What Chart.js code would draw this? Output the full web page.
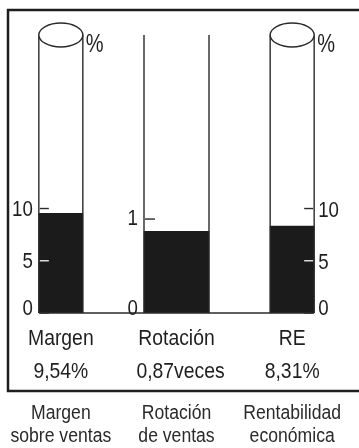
<!DOCTYPE html>
<html>
<head>
<meta charset="utf-8">
<style>
  html, body { margin: 0; padding: 0; background: #fff; }
  canvas { display: block; }
</style>
<script src="https://cdn.jsdelivr.net/npm/chart.js@4/dist/chart.umd.min.js"></script>
</head>
<body>
<canvas id="c" width="359" height="448"></canvas>
<script>
// ---- data ----
const categories = ['Margen', 'Rotación', 'RE'];
const valueLabels = ['9,54%', '0,87veces', '8,31%'];
const descLine1 = ['Margen', 'Rotación', 'Rentabilidad'];
const descLine2 = ['sobre ventas', 'de ventas', 'económica'];
const margenValues = [9.54, null, null];
const rotacionValues = [null, 0.87, null];
const reValues = [null, null, 8.31];
const pctTicks = [0, 5, 10];
const rotTicks = [0, 1];
const unitLabel = '%';

const INK = '#1e1e1e';
const FILL = '#1b1b1b';
const FONT = '"Liberation Sans", Arial, sans-serif';

function txt(ctx, s, x, y, size, align, sx, color) {
  ctx.save();
  ctx.font = size + 'px ' + FONT;
  ctx.fillStyle = color || INK;
  ctx.textBaseline = 'alphabetic';
  const w = ctx.measureText(s).width * sx;
  let left = x;
  if (align === 'center') left = x - w / 2;
  else if (align === 'right') left = x - w;
  ctx.translate(left, y);
  ctx.scale(sx, 1);
  ctx.textAlign = 'left';
  ctx.fillText(s, 0, 0);
  ctx.restore();
}

const decor = {
  id: 'decor',
  afterDatasetsDraw(chart) {
    const ctx = chart.ctx;
    const ca = chart.chartArea;
    const bars = [0, 1, 2].map(i => chart.getDatasetMeta(i).data[i]);
    const scales = [chart.scales.yL, chart.scales.yM, chart.scales.yR];
    const bottom = ca.bottom;
    const topY = ca.top + 2;

    ctx.save();
    // outer frame
    ctx.strokeStyle = INK;
    ctx.lineWidth = 2.5;
    ctx.beginPath();
    ctx.moveTo(365, 10);
    ctx.lineTo(8, 10);
    ctx.lineTo(8, 391);
    ctx.lineTo(365, 391);
    ctx.stroke();

    // tubes
    ctx.lineWidth = 1.4;
    ctx.strokeStyle = '#2a2a2a';
    bars.forEach((b, i) => {
      const l = b.x - b.width / 2, r = b.x + b.width / 2;
      ctx.beginPath();
      ctx.moveTo(l, topY); ctx.lineTo(l, bottom);
      ctx.moveTo(r, topY); ctx.lineTo(r, bottom);
      ctx.stroke();
      if (i !== 1) {
        ctx.beginPath();
        ctx.ellipse(b.x, topY, b.width / 2, 12, 0, 0, Math.PI * 2);
        ctx.fillStyle = '#fff';
        ctx.fill();
        ctx.stroke();
      }
    });
    // baseline
    const l0 = bars[0].x - bars[0].width / 2;
    const r2 = bars[2].x + bars[2].width / 2;
    ctx.beginPath();
    ctx.moveTo(l0, bottom); ctx.lineTo(r2, bottom);
    ctx.stroke();

    // ticks
    function tickColor(y, bar) { return (y > bar.y + 1 && y < bottom - 1) ? '#e8e8e8' : '#2a2a2a'; }
    const TS = 22, TSX = 0.85;
    // left scale
    pctTicks.forEach(t => {
      const y = scales[0].getPixelForValue(t);
      ctx.strokeStyle = tickColor(y, bars[0]);
      ctx.beginPath(); ctx.moveTo(l0 + 1, y); ctx.lineTo(l0 + 10, y); ctx.stroke();
      txt(ctx, String(t), l0 - 6, Math.min(y + 7.5, bottom + 2), TS, 'right', TSX);
    });
    // middle scale
    const lm = bars[1].x - bars[1].width / 2;
    rotTicks.forEach(t => {
      const y = scales[1].getPixelForValue(t);
      ctx.strokeStyle = '#2a2a2a';
      if (t !== 0) { ctx.beginPath(); ctx.moveTo(lm + 1, y); ctx.lineTo(lm + 11, y); ctx.stroke(); }
      txt(ctx, String(t), lm - 6, Math.min(y + 6, bottom + 2), TS, 'right', TSX);
    });
    // right scale
    pctTicks.forEach(t => {
      const y = scales[2].getPixelForValue(t);
      ctx.strokeStyle = tickColor(y, bars[2]);
      ctx.beginPath(); ctx.moveTo(r2 - 10, y); ctx.lineTo(r2 - 1, y); ctx.stroke();
      txt(ctx, String(t), r2 + 4, Math.min(y + 8, bottom + 2), TS, 'left', TSX);
    });

    // unit labels
    const r0 = bars[0].x + bars[0].width / 2;
    txt(ctx, unitLabel, r0 + 3, 52, 25, 'left', 0.8);
    txt(ctx, unitLabel, r2 + 3, 52, 25, 'left', 0.8);

    // labels in frame and below
    bars.forEach((b, i) => {
      txt(ctx, categories[i], b.x, bottom + 32, 22.5, 'center', 0.86);
      txt(ctx, valueLabels[i], b.x + (i === 1 ? 4 : 0), bottom + 65, 22.5, 'center', 0.86);
      txt(ctx, descLine1[i], b.x, 419, 20, 'center', 0.88, '#2a2a2a');
      txt(ctx, descLine2[i], b.x, 442, 20, 'center', 0.88, '#2a2a2a');
    });
    ctx.restore();
  }
};

const bg = {
  id: 'bg',
  beforeDraw(chart) {
    const ctx = chart.ctx;
    ctx.save();
    ctx.fillStyle = '#fff';
    ctx.fillRect(0, 0, chart.width, chart.height);
    ctx.restore();
  }
};

new Chart(document.getElementById('c'), {
  type: 'bar',
  data: {
    labels: categories,
    datasets: [
      { data: margenValues, yAxisID: 'yL', backgroundColor: FILL, barThickness: 44 },
      { data: rotacionValues, yAxisID: 'yM', backgroundColor: FILL, barThickness: 65 },
      { data: reValues, yAxisID: 'yR', backgroundColor: FILL, barThickness: 44 }
    ]
  },
  options: {
    responsive: false,
    animation: false,
    devicePixelRatio: 1,
    grouped: false,
    layout: { padding: { left: 3, right: 9, top: 33, bottom: 135 } },
    plugins: { legend: { display: false }, tooltip: { enabled: false } },
    scales: {
      x: { display: false, offset: true },
      yL: { display: false, min: 0, max: 26.8 },
      yM: { display: false, min: 0, max: 2.98 },
      yR: { display: false, min: 0, max: 26.8 }
    }
  },
  plugins: [bg, decor]
});
</script>
</body>
</html>
